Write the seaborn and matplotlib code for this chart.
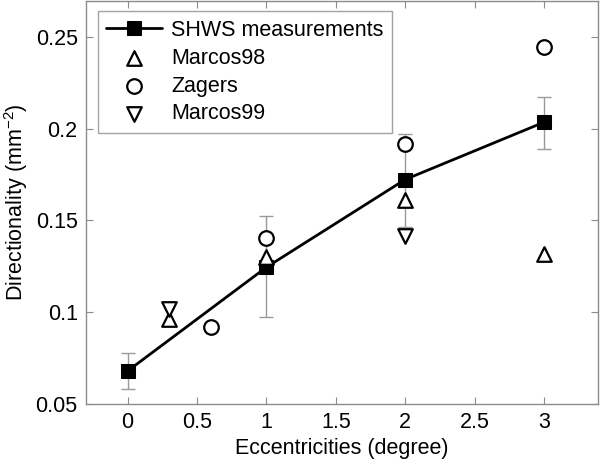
import matplotlib
matplotlib.use("Agg")
import matplotlib.pyplot as plt
import seaborn as sns
import numpy as np
import pandas as pd

# Data
shws_x = [0, 1, 2, 3]
shws_y = [0.068, 0.1245, 0.1723, 0.2035]
shws_err_lo = [0.010, 0.027, 0.026, 0.0145]
shws_err_hi = [0.010, 0.028, 0.025, 0.0135]

marcos98_x = [0.3, 1, 2, 3]
marcos98_y = [0.0965, 0.130, 0.1613, 0.1318]

zagers_x = [0.6, 1, 2, 3]
zagers_y = [0.092, 0.1406, 0.1917, 0.2443]

marcos99_x = [0.3, 2]
marcos99_y = [0.1015, 0.1418]

xticks = [0, 0.5, 1, 1.5, 2, 2.5, 3]
yticks = [0.05, 0.1, 0.15, 0.2, 0.25]

sns.set_style("ticks")
plt.rcParams['font.family'] = ['Liberation Sans', 'DejaVu Sans']
plt.rcParams['mathtext.default'] = 'regular'
plt.rcParams['text.color'] = 'black'
plt.rcParams['axes.labelcolor'] = 'black'

FS = 15.5

fig = plt.figure(figsize=(6.0, 4.61), dpi=100)
ax = fig.add_axes([0.1433, 0.1236, 0.8534, 0.874])

grey = '#8c8c8c'
ax.errorbar(shws_x, shws_y, yerr=[shws_err_lo, shws_err_hi], fmt='none',
            ecolor='#999999', elinewidth=1.0, capsize=5, capthick=1.0, zorder=1)

df_shws = pd.DataFrame({'x': shws_x, 'y': shws_y})
sns.lineplot(data=df_shws, x='x', y='y', ax=ax, color='black', linewidth=2,
             marker='s', markersize=10, markeredgecolor='black',
             markerfacecolor='black', label='SHWS measurements', zorder=3)

common = dict(facecolor='white', edgecolor='black', linewidth=1.6, s=110, zorder=4)
sns.scatterplot(x=marcos98_x, y=marcos98_y, ax=ax, marker='^', label='Marcos98', **common)
sns.scatterplot(x=zagers_x, y=zagers_y, ax=ax, marker='o', label='Zagers', **common)
sns.scatterplot(x=marcos99_x, y=marcos99_y, ax=ax, marker='v', label='Marcos99', **common)

ax.set_xlim(-0.3, 3.39)
ax.set_ylim(0.05, 0.2695)
ax.set_xticks(xticks)
ax.set_xticklabels([f"{t:g}" for t in xticks])
ax.set_yticks(yticks)
ax.set_yticklabels([f"{t:g}" for t in yticks])

for s in ax.spines.values():
    s.set_visible(True)
    s.set_color(grey)
    s.set_linewidth(1.0)
ax.tick_params(direction='in', top=True, right=True, length=5, width=0.8,
               color=grey, labelsize=FS, labelcolor='black', pad=6)

ax.set_xlabel('Eccentricities (degree)', fontsize=FS, labelpad=3, color='black')
ax.set_ylabel('Directionality (mm$^{-2}$)', fontsize=FS, labelpad=4, color='black')

leg = ax.legend(loc='upper left', bbox_to_anchor=(0.023, 0.975), borderaxespad=0,
                fontsize=FS, frameon=True, fancybox=False, handlelength=2.6,
                labelspacing=0.32, borderpad=0.4, handletextpad=0.4)
leg.get_frame().set_edgecolor(grey)
leg.get_frame().set_linewidth(1.0)
for t in leg.get_texts():
    t.set_color('black')

fig.savefig('out.png', dpi=100)
